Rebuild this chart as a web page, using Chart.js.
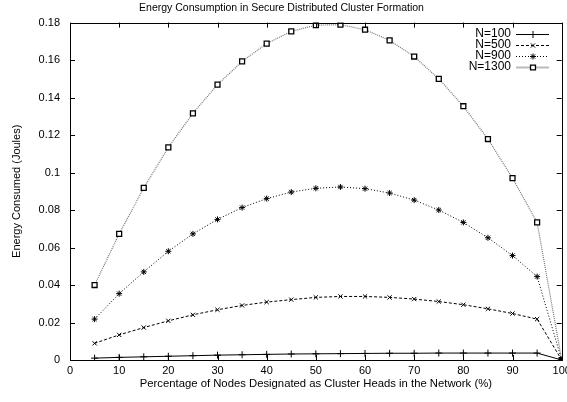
<!DOCTYPE html>
<html>
<head>
<meta charset="utf-8">
<script src="https://cdn.jsdelivr.net/npm/chart.js@4/dist/chart.umd.min.js"></script>
<style>
  html, body { margin: 0; padding: 0; background: #fff; }
  #wrap { width: 567px; height: 402px; }
</style>
</head>
<body>
<div id="wrap"><canvas id="chart" width="567" height="402"></canvas></div>
<script>
// Data
const xValues = [5, 10, 15, 20, 25, 30, 35, 40, 45, 50, 55, 60, 65, 70, 75, 80, 85, 90, 95, 100];
const seriesNames = ['N=100', 'N=500', 'N=900', 'N=1300'];
const n100  = [0.0010, 0.0014, 0.0017, 0.0020, 0.0023, 0.0026, 0.0028, 0.0030, 0.0032, 0.0033,
               0.0034, 0.0035, 0.0036, 0.0036, 0.0037, 0.0037, 0.0037, 0.0037, 0.0037, 0];
const n500  = [0.0089, 0.0134, 0.0173, 0.0209, 0.0241, 0.0268, 0.0291, 0.0309, 0.0322, 0.0334,
               0.0339, 0.0339, 0.0334, 0.0325, 0.0312, 0.0295, 0.0273, 0.0248, 0.0218, 0];
const n900  = [0.0218, 0.0354, 0.0470, 0.0580, 0.0673, 0.0750, 0.0813, 0.0861, 0.0896, 0.0916,
               0.0923, 0.0914, 0.0891, 0.0853, 0.0800, 0.0734, 0.0652, 0.0557, 0.0445, 0];
const n1300 = [0.0400, 0.0673, 0.0918, 0.1134, 0.1316, 0.1469, 0.1593, 0.1688, 0.1753, 0.1786,
               0.1789, 0.1762, 0.1705, 0.1619, 0.1500, 0.1354, 0.1179, 0.0970, 0.0734, 0];

const FONT = "'Liberation Sans', Arial, Helvetica, sans-serif";

const toPoints = arr => xValues.map((x, i) => ({x: x, y: arr[i]}));

// gnuplot style frame: box around plot with inward ticks on all four sides
const framePlugin = {
    id: 'frame',
    afterDatasetsDraw(chart) {
        const {ctx, chartArea: a, scales} = chart;
        const len = 5;
        ctx.save();
        ctx.strokeStyle = '#000';
        ctx.lineWidth = 1;
        ctx.beginPath();
        scales.x.ticks.forEach(t => {
            const px = Math.round(scales.x.getPixelForValue(t.value)) + 0.5;
            ctx.moveTo(px, a.bottom); ctx.lineTo(px, a.bottom - len);
            ctx.moveTo(px, a.top); ctx.lineTo(px, a.top + len);
        });
        scales.y.ticks.forEach(t => {
            const py = Math.round(scales.y.getPixelForValue(t.value)) + 0.5;
            ctx.moveTo(a.left, py); ctx.lineTo(a.left + len, py);
            ctx.moveTo(a.right, py); ctx.lineTo(a.right - len, py);
        });
        ctx.stroke();
        ctx.strokeRect(Math.round(a.left) + 0.5, Math.round(a.top) + 0.5,
                       Math.round(a.right - a.left), Math.round(a.bottom - a.top));
        ctx.restore();
    }
};

// Legend in the top right corner: label text then a line sample with its marker
const keyPlugin = {
    id: 'key',
    afterDraw(chart) {
        const {ctx} = chart;
        ctx.save();
        ctx.font = '12px ' + FONT;
        ctx.textAlign = 'right';
        ctx.textBaseline = 'middle';
        chart.data.datasets.forEach((ds, i) => {
            const y = 34 + i * 11;
            ctx.fillStyle = '#000';
            ctx.fillText(ds.label, 511, y);
            ctx.beginPath();
            ctx.strokeStyle = ds.keyColor || ds.borderColor;
            ctx.lineWidth = ds.keyWidth || ds.borderWidth;
            ctx.setLineDash(ds.keyColor ? [] : (ds.borderDash || []));
            ctx.moveTo(516, y + 0.5);
            ctx.lineTo(549, y + 0.5);
            ctx.stroke();
            ctx.setLineDash([]);
            ctx.strokeStyle = '#000';
            ctx.fillStyle = '#fff';
            ctx.lineWidth = ds.pointBorderWidth;
            Chart.helpers.drawPoint(ctx, {pointStyle: ds.pointStyle, radius: ds.pointRadius, borderWidth: ds.pointBorderWidth}, 533, y + 0.5);
        });
        ctx.restore();
    }
};

const lastIndex = xValues.length - 1;

const makeSet = (label, arr, extra) => Object.assign({
    label: label,
    data: toPoints(arr),
    borderColor: '#000',
    borderWidth: 1,
    pointBorderColor: '#000',
    pointBackgroundColor: c => c.dataIndex === lastIndex ? '#000' : '#fff',
    pointBorderWidth: 1,
    pointRadius: 3,
    tension: 0,
    fill: false
}, extra);

new Chart(document.getElementById('chart'), {
    type: 'line',
    data: {
        datasets: [
            makeSet(seriesNames[0], n100, {pointStyle: 'cross', pointRadius: 3.5}),
            makeSet(seriesNames[1], n500, {pointStyle: 'crossRot', borderDash: [3, 2]}),
            makeSet(seriesNames[2], n900, {pointStyle: 'star', borderDash: [1, 2]}),
            makeSet(seriesNames[3], n1300, {pointStyle: 'rect', pointRadius: 3.5, pointBorderWidth: 1.3,
                                             borderColor: '#777', borderDash: [1, 1], borderWidth: 1.2,
                                             keyColor: '#bbb', keyWidth: 2})
        ]
    },
    options: {
        responsive: false,
        animation: false,
        layout: { padding: { left: 0, right: 4, top: 0, bottom: 0 } },
        plugins: {
            legend: { display: false },
            tooltip: { enabled: false },
            title: {
                display: true,
                text: 'Energy Consumption in Secure Distributed Cluster Formation',
                color: '#000',
                font: { family: FONT, size: 10.5, weight: 'normal' },
                padding: { top: 2, bottom: 8 }
            }
        },
        scales: {
            x: {
                type: 'linear',
                min: 0, max: 100,
                grid: { display: false, drawTicks: false },
                border: { display: false },
                ticks: { stepSize: 10, color: '#000', padding: 4, maxRotation: 0,
                         font: { family: FONT, size: 11 } },
                title: {
                    display: true,
                    text: 'Percentage of Nodes Designated as Cluster Heads in the Network (%)',
                    color: '#000',
                    font: { family: FONT, size: 11.3 },
                    padding: { top: 0, bottom: 11 }
                },
                afterFit(scale) {
                    scale.height = 42;
                    scale.paddingLeft = 0;
                    scale.paddingRight = 0;
                }
            },
            y: {
                min: 0, max: 0.18,
                grid: { display: false, drawTicks: false },
                border: { display: false },
                ticks: { stepSize: 0.02, color: '#000', padding: 10,
                         font: { family: FONT, size: 11 },
                         callback: v => String(Number(v.toFixed(2))) },
                title: {
                    display: true,
                    text: 'Energy Consumed (Joules)',
                    color: '#000',
                    font: { family: FONT, size: 11 },
                    padding: { top: 10, bottom: 0 }
                },
                afterFit(scale) {
                    scale.width = 70;
                    scale.paddingTop = 0;
                    scale.paddingBottom = 0;
                }
            }
        }
    },
    plugins: [framePlugin, keyPlugin]
});
</script>
</body>
</html>
